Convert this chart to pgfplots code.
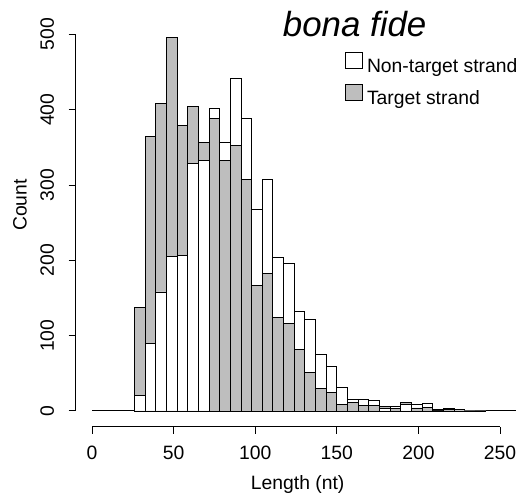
\documentclass[border=0pt]{standalone}
\usepackage{pgfplots}
\pgfplotsset{compat=1.18}
\usepackage{pgfplotstable}
\usepackage{fontspec}
\setmainfont{Liberation Sans}
\definecolor{bargray}{RGB}{190,190,190}
% bin centre x, target strand count g, non-target strand count w
\pgfplotstableread{
x g w
29.26 137 21
35.79 365 90
42.32 408 158
48.84 496 205
55.37 379 207
61.89 404 329
68.42 357 333
74.95 388 402
81.47 333 357
88.00 352 441
94.52 307 388
101.05 167 267
107.58 182 307
114.10 124 204
120.63 116 196
127.15 82 132
133.68 51 122
140.21 30 75
146.73 25 59
153.26 9 31
159.78 11 15
166.31 7 15
172.84 7 14
179.36 6 3
185.89 3 6
192.41 11 9
198.94 4 9
205.47 5 10
211.99 2 1
218.52 2 4
225.04 2 0
231.57 0 0
238.10 1 0
}\hist
\begin{document}
\begin{tikzpicture}
\path[use as bounding box] (0,0) rectangle (522bp,500bp);
\begin{axis}[
  at={(75.7bp,73.2bp)}, anchor=south west,
  scale only axis, width=443.9bp, height=407.5bp,
  xmin=-10, xmax=262, ymin=-21, ymax=520,
  axis line style={draw=none},
  tick pos=left, tick align=outside,
  major tick length=7bp,
  tick style={black, line width=1bp},
  xtick={0,50,...,250}, ytick={0,100,...,500},
  /pgf/number format/assume math mode=true,
  tick label style={font=\fontsize{19.4}{23}\selectfont},
  xticklabel shift=9bp, yticklabel shift=11bp,
  yticklabel style={rotate=90, anchor=south},
  label style={font=\fontsize{19.4}{23}\selectfont},
  xlabel={Length (nt)}, ylabel={Count},
  xlabel style={at={(axis description cs:0.5,-0.1404)}, anchor=center},
  ylabel style={at={(axis description cs:-0.1255,0.544)}, anchor=center},
  clip=false,
  legend cell align=left,
  legend image code/.code={\draw[#1] (0bp,-1bp) rectangle (16.7bp,15.7bp);},
  legend style={at={(axis description cs:0.6067,0.9205)}, anchor=north west,
    draw=none, fill=none, inner sep=0pt, outer sep=0pt, row sep=7bp, column sep=4.5bp,
    nodes={inner sep=0pt, text height=14bp, text depth=4bp},
    font=\fontsize{19.4}{23}\selectfont},
  barstyle/.style={ybar, bar width=6.526, bar shift=0pt, draw=black, line width=0.9bp, forget plot},
]
\draw[black, line width=1bp] (axis cs:0,-21) -- (axis cs:250,-21);
\draw[black, line width=1bp] (axis cs:-10,0) -- (axis cs:-10,500);
\addplot[forget plot, black, line width=1bp] coordinates {(0,0) (260,0)};
% taller bar of each bin first
\addplot[barstyle, fill=bargray] table[x=x, y expr={\thisrow{g}*(\thisrow{g}>\thisrow{w})}] {\hist};
\addplot[barstyle, fill=white] table[x=x, y expr={\thisrow{w}*(1-(\thisrow{g}>\thisrow{w}))}] {\hist};
% shorter bar on top
\addplot[barstyle, fill=white] table[x=x, y expr={\thisrow{w}*(\thisrow{g}>\thisrow{w})}] {\hist};
\addplot[barstyle, fill=bargray] table[x=x, y expr={\thisrow{g}*(1-(\thisrow{g}>\thisrow{w}))}] {\hist};
\addlegendimage{fill=white, draw=black, line width=0.8bp}
\addlegendentry{Non-target strand}
\addlegendimage{fill=bargray, draw=black, line width=0.8bp}
\addlegendentry{Target strand}
\end{axis}
\node[font=\fontsize{35}{42}\selectfont\itshape, anchor=base] at (354.7bp,463.3bp) {bona fide};
\end{tikzpicture}
\end{document}
